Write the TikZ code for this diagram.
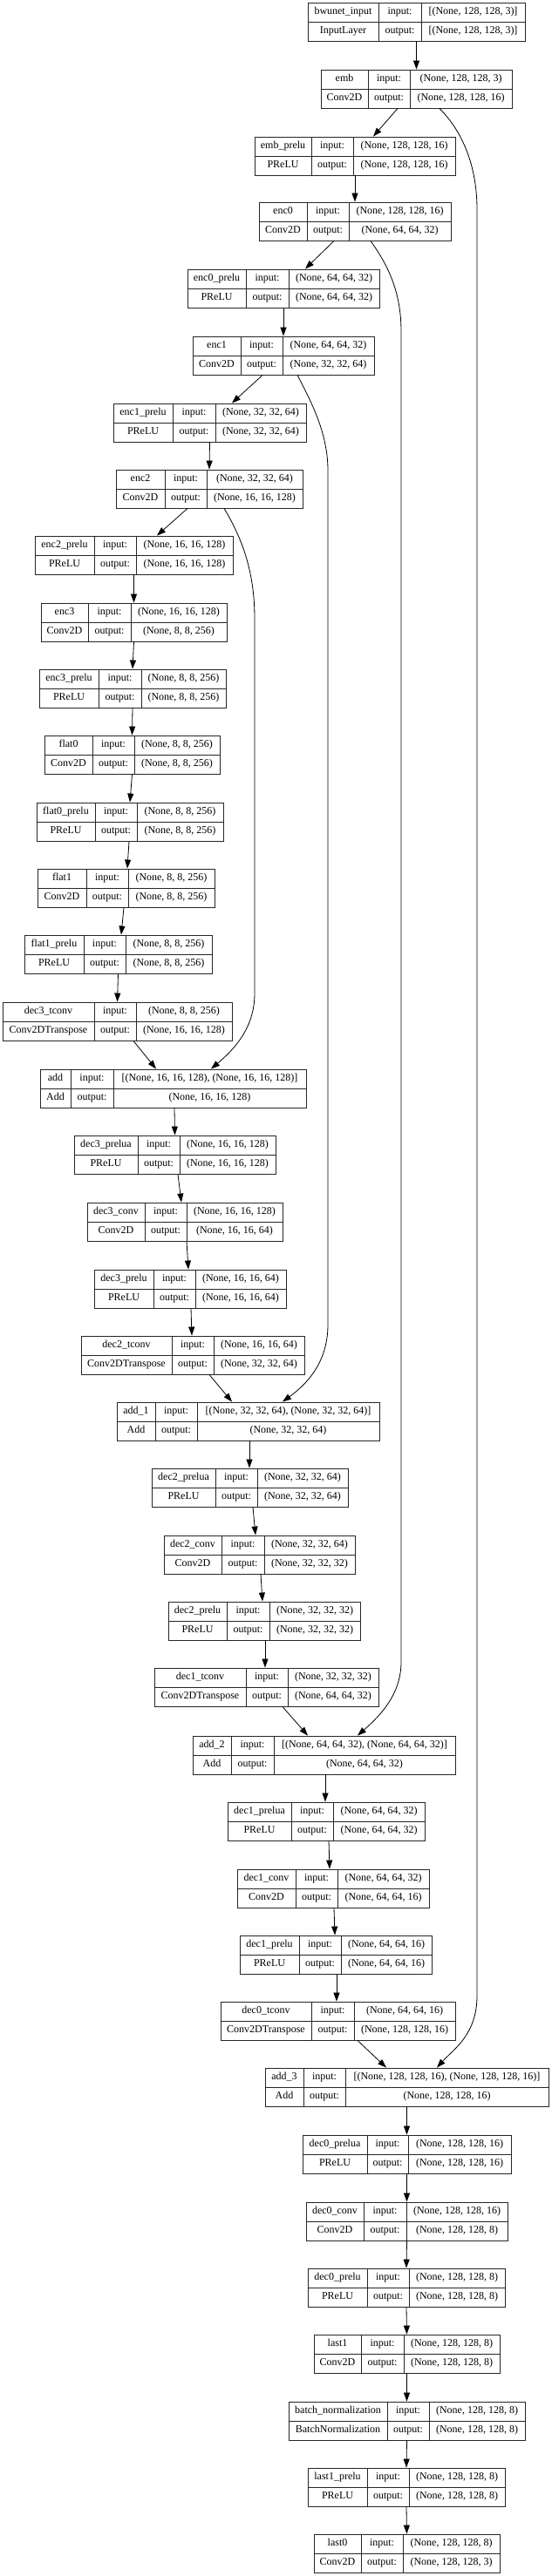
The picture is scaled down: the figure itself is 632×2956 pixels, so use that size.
\documentclass[tikz,border=0pt]{standalone}
\usepackage{fontspec}
\setmainfont{Liberation Serif}
\usetikzlibrary{arrows.meta}

\begin{document}
\begin{tikzpicture}[x=1pt, y=-1pt,
    cell/.style={inner sep=0pt, font=\fontsize{12}{14}\selectfont, text height=8.2pt, text depth=2.6pt},
    layerbox/.style={draw=black!85, line width=0.9pt, inner sep=0pt, minimum height=44pt},
    rule/.style={draw=black!85, line width=0.9pt},
    edge/.style={line width=0.8pt, -{Triangle[length=10pt, width=7pt]}}]
    \path[use as bounding box, fill=white] (0,0) rectangle (632,2956);

    % layers: id / column edges / top / name / class / input / output
    \foreach \id/\xa/\xb/\xc/\xd/\yt/\nm/\cl/\vin/\vout in {
        bwunet/353/434/483/602/3/bwunet\_input/InputLayer/{[(None, 128, 128, 3)]}/{[(None, 128, 128, 3)]},
        emb/368/422/470/587/80/emb/Conv2D/{(None, 128, 128, 3)}/{(None, 128, 128, 16)},
        embprelu/292/357/405/522/157/emb\_prelu/PReLU/{(None, 128, 128, 16)}/{(None, 128, 128, 16)},
        enc0/297/352/400/517/232/enc0/Conv2D/{(None, 128, 128, 16)}/{(None, 64, 64, 32)},
        enc0prelu/215/282/331/435/309/enc0\_prelu/PReLU/{(None, 64, 64, 32)}/{(None, 64, 64, 32)},
        enc1/221/276/324/429/386/enc1/Conv2D/{(None, 64, 64, 32)}/{(None, 32, 32, 64)},
        enc1prelu/130/198/247/351/463/enc1\_prelu/PReLU/{(None, 32, 32, 64)}/{(None, 32, 32, 64)},
        enc2/133/189/237/347/539/enc2/Conv2D/{(None, 32, 32, 64)}/{(None, 16, 16, 128)},
        enc2prelu/40/108/156/267/615/enc2\_prelu/PReLU/{(None, 16, 16, 128)}/{(None, 16, 16, 128)},
        enc3/47/101/150/260/692/enc3/Conv2D/{(None, 16, 16, 128)}/{(None, 8, 8, 256)},
        enc3prelu/45/113/162/259/768/enc3\_prelu/PReLU/{(None, 8, 8, 256)}/{(None, 8, 8, 256)},
        flat0/51/106/154/252/844/flat0/Conv2D/{(None, 8, 8, 256)}/{(None, 8, 8, 256)},
        flat0prelu/42/109/157/256/921/flat0\_prelu/PReLU/{(None, 8, 8, 256)}/{(None, 8, 8, 256)},
        flat1/43/99/147/246/997/flat1/Conv2D/{(None, 8, 8, 256)}/{(None, 8, 8, 256)},
        flat1prelu/28/96/144/243/1073/flat1\_prelu/PReLU/{(None, 8, 8, 256)}/{(None, 8, 8, 256)},
        dec3tconv/3/108/156/266/1150/dec3\_tconv/Conv2DTranspose/{(None, 8, 8, 256)}/{(None, 16, 16, 128)},
        add/46/81/130/351/1227/add/Add/{[(None, 16, 16, 128), (None, 16, 16, 128)]}/{(None, 16, 16, 128)},
        dec3prelua/85/158/206/316/1303/dec3\_prelua/PReLU/{(None, 16, 16, 128)}/{(None, 16, 16, 128)},
        dec3conv/100/166/214/324/1380/dec3\_conv/Conv2D/{(None, 16, 16, 128)}/{(None, 16, 16, 64)},
        dec3prelu/108/176/224/328/1457/dec3\_prelu/PReLU/{(None, 16, 16, 64)}/{(None, 16, 16, 64)},
        dec2tconv/93/197/245/349/1533/dec2\_tconv/Conv2DTranspose/{(None, 16, 16, 64)}/{(None, 32, 32, 64)},
        add1/134/178/226/435/1609/add\_1/Add/{[(None, 32, 32, 64), (None, 32, 32, 64)]}/{(None, 32, 32, 64)},
        dec2prelua/174/247/295/399/1685/dec2\_prelua/PReLU/{(None, 32, 32, 64)}/{(None, 32, 32, 64)},
        dec2conv/188/254/303/407/1762/dec2\_conv/Conv2D/{(None, 32, 32, 64)}/{(None, 32, 32, 32)},
        dec2prelu/193/260/309/413/1838/dec2\_prelu/PReLU/{(None, 32, 32, 32)}/{(None, 32, 32, 32)},
        dec1tconv/177/282/330/434/1914/dec1\_tconv/Conv2DTranspose/{(None, 32, 32, 32)}/{(None, 64, 64, 32)},
        add2/221/265/314/522/1992/add\_2/Add/{[(None, 64, 64, 32), (None, 64, 64, 32)]}/{(None, 64, 64, 32)},
        dec1prelua/261/334/382/487/2068/dec1\_prelua/PReLU/{(None, 64, 64, 32)}/{(None, 64, 64, 32)},
        dec1conv/272/339/387/492/2145/dec1\_conv/Conv2D/{(None, 64, 64, 32)}/{(None, 64, 64, 16)},
        dec1prelu/275/343/391/495/2221/dec1\_prelu/PReLU/{(None, 64, 64, 16)}/{(None, 64, 64, 16)},
        dec0tconv/253/357/406/522/2297/dec0\_tconv/Conv2DTranspose/{(None, 64, 64, 16)}/{(None, 128, 128, 16)},
        add3/304/348/396/629/2373/add\_3/Add/{[(None, 128, 128, 16), (None, 128, 128, 16)]}/{(None, 128, 128, 16)},
        dec0prelua/347/421/468/586/2450/dec0\_prelua/PReLU/{(None, 128, 128, 16)}/{(None, 128, 128, 16)},
        dec0conv/351/417/466/582/2527/dec0\_conv/Conv2D/{(None, 128, 128, 16)}/{(None, 128, 128, 8)},
        dec0prelu/353/421/469/579/2603/dec0\_prelu/PReLU/{(None, 128, 128, 8)}/{(None, 128, 128, 8)},
        last1/360/414/463/573/2679/last1/Conv2D/{(None, 128, 128, 8)}/{(None, 128, 128, 8)},
        bn/331/444/492/602/2756/batch\_normalization/BatchNormalization/{(None, 128, 128, 8)}/{(None, 128, 128, 8)},
        last1prelu/353/421/469/579/2832/last1\_prelu/PReLU/{(None, 128, 128, 8)}/{(None, 128, 128, 8)},
        last0/360/414/462/573/2908/last0/Conv2D/{(None, 128, 128, 8)}/{(None, 128, 128, 3)}} {
        \node[layerbox, minimum width={(\xd-\xa)*1pt}] (\id) at ({(\xa+\xd)/2},{\yt+22}) {};
        \draw[rule] (\id.west) -- (\id.east) (\xb,\yt) -- (\xb,{\yt+44}) (\xc,\yt) -- (\xc,{\yt+44});
        \node[cell] (\id-nm) at ({(\xa+\xb)/2},{\yt+11}) {\nm};
        \node[cell] (\id-ik) at ({(\xb+\xc)/2},{\yt+11}) {input:};
        \node[cell] (\id-iv) at ({(\xc+\xd)/2},{\yt+11}) {\vin};
        \node[cell] (\id-cl) at ({(\xa+\xb)/2},{\yt+33}) {\cl};
        \node[cell] (\id-ok) at ({(\xb+\xc)/2},{\yt+33}) {output:};
        \node[cell] (\id-ov) at ({(\xc+\xd)/2},{\yt+33}) {\vout};
    }

    % main chain
    \draw[edge] (bwunet.south) -- (emb.north);
    \draw[edge] ([xshift=-21.5pt]emb.south) -- ([xshift=21pt]embprelu.north);
    \draw[edge] (embprelu.south) -- (enc0.north);
    \draw[edge] ([xshift=-24pt]enc0.south) -- ([xshift=25pt]enc0prelu.north);
    \draw[edge] (enc0prelu.south) -- (enc1.north);
    \draw[edge] ([xshift=-24pt]enc1.south) -- ([xshift=25.5pt]enc1prelu.north);
    \draw[edge] (enc1prelu.south) -- (enc2.north);
    \draw[edge] ([xshift=-25pt]enc2.south) -- ([xshift=26.5pt]enc2prelu.north);
    \draw[edge] (enc2prelu.south) -- (enc3.north);
    \draw[edge] (enc3.south) -- (enc3prelu.north);
    \draw[edge] (enc3prelu.south) -- (flat0.north);
    \draw[edge] (flat0.south) -- (flat0prelu.north);
    \draw[edge] ([xshift=-1pt]flat0prelu.south) -- ([xshift=1.5pt]flat1.north);
    \draw[edge] ([xshift=-2.5pt]flat1.south) -- ([xshift=3.5pt]flat1prelu.north);
    \draw[edge] (flat1prelu.south) -- (dec3tconv.north);
    \draw[edge] ([xshift=18.5pt]dec3tconv.south) -- ([xshift=-19.5pt]add.north);
    \draw[edge] ([xshift=1.5pt]add.south) -- (dec3prelua.north);
    \draw[edge] ([xshift=3.5pt]dec3prelua.south) -- ([xshift=-4pt]dec3conv.north);
    \draw[edge] ([xshift=2pt]dec3conv.south) -- ([xshift=-2pt]dec3prelu.north);
    \draw[edge] ([xshift=1pt]dec3prelu.south) -- ([xshift=-1pt]dec2tconv.north);
    \draw[edge] ([xshift=19pt]dec2tconv.south) -- ([xshift=-18.5pt]add1.north);
    \draw[edge] ([xshift=1.5pt]add1.south) -- ([xshift=-0.5pt]dec2prelua.north);
    \draw[edge] ([xshift=3.5pt]dec2prelua.south) -- ([xshift=-4.5pt]dec2conv.north);
    \draw[edge] ([xshift=1.5pt]dec2conv.south) -- ([xshift=-2pt]dec2prelu.north);
    \draw[edge] ([xshift=1pt]dec2prelu.south) -- ([xshift=-1.5pt]dec1tconv.north);
    \draw[edge] ([xshift=18.5pt]dec1tconv.south) -- ([xshift=-18.5pt]add2.north);
    \draw[edge] ([xshift=1.5pt]add2.south) -- ([xshift=-1pt]dec1prelua.north);
    \draw[edge] ([xshift=3pt]dec1prelua.south) -- ([xshift=-4pt]dec1conv.north);
    \draw[edge] ([xshift=1pt]dec1conv.south) -- ([xshift=-1pt]dec1prelu.north);
    \draw[edge] ([xshift=1pt]dec1prelu.south) -- ([xshift=-1.5pt]dec0tconv.north);
    \draw[edge] ([xshift=22.5pt]dec0tconv.south) -- ([xshift=-23.5pt]add3.north);
    \foreach \a/\b in {add3/dec0prelua, dec0prelua/dec0conv, dec0conv/dec0prelu, dec0prelu/last1,
        last1/bn, bn/last1prelu, last1prelu/last0}
        \draw[edge] (\a.south) -- (\b.north);

    % skip connections
    \draw[edge] ([xshift=26.5pt]emb.south) .. controls +(26,26) and +(0,-50) .. (547,240)
        -- (547,2290) .. controls +(0,45) and +(19,-21) .. ([xshift=34.5pt]add3.north);
    \draw[edge] ([xshift=18pt]enc0.south) .. controls +(20,28) and +(0,-45) .. (460,380)
        -- (460,1907) .. controls +(0,38) and +(25,-22) .. ([xshift=38.5pt]add2.north);
    \draw[edge] ([xshift=16pt]enc1.south) .. controls +(19,36) and +(0,-40) .. (376,540)
        -- (376,1520) .. controls +(0,45) and +(26,-19) .. ([xshift=39.5pt]add1.north);
    \draw[edge] ([xshift=17pt]enc2.south) .. controls +(23,38) and +(0,-50) .. (292,710)
        -- (292,1140) .. controls +(0,40) and +(26,-22) .. ([xshift=43.5pt]add.north);
\end{tikzpicture}
\end{document}
